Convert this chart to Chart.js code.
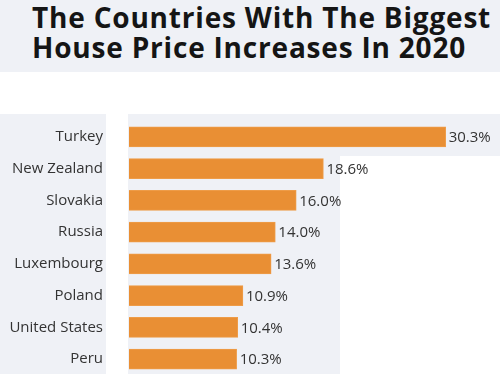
<!DOCTYPE html>
<html>
<head>
<meta charset="utf-8">
<script src="https://cdn.jsdelivr.net/npm/chart.js@4"></script>
<style>
  html, body { margin: 0; padding: 0; }
  body {
    width: 500px; height: 374px; overflow: hidden; position: relative;
    background: #eff1f6;
    font-family: "Open Sans", sans-serif;
  }
  .band { position: absolute; background: #fff; }
  h1 {
    position: absolute; left: 32px; top: 2px; margin: 0;
    font-size: 28px; line-height: 30px; font-weight: 700;
    color: #151515; letter-spacing: 0.8px;
    white-space: nowrap;
  }
  #chart { position: absolute; left: 0; top: 110px; }
</style>
</head>
<body>
<div class="band" style="left:0;top:72px;width:500px;height:42px"></div>
<div class="band" style="left:106px;top:114px;width:22px;height:260px"></div>
<div class="band" style="left:340px;top:156px;width:160px;height:218px"></div>
<h1>The Countries With The Biggest<br>House Price Increases In 2020</h1>
<canvas id="chart" width="500" height="270"></canvas>
<script>
const countries = ["Turkey", "New Zealand", "Slovakia", "Russia", "Luxembourg", "Poland", "United States", "Peru"];
const increases = [30.3, 18.6, 16.0, 14.0, 13.6, 10.9, 10.4, 10.3];

const valueLabels = {
  id: "valueLabels",
  afterDatasetsDraw(chart) {
    const ctx = chart.ctx;
    const meta = chart.getDatasetMeta(0);
    ctx.save();
    ctx.font = "15px 'Open Sans'";
    ctx.fillStyle = "#333";
    ctx.textAlign = "left";
    ctx.textBaseline = "middle";
    meta.data.forEach((bar, i) => {
      ctx.fillText(increases[i].toFixed(1) + "%", bar.x + 3, bar.y + 1);
    });
    ctx.restore();
  }
};

new Chart(document.getElementById("chart"), {
  type: "bar",
  data: {
    labels: countries,
    datasets: [{
      data: increases,
      backgroundColor: "#e98f34",
      borderColor: "#ee9c48",
      borderWidth: 1,
      barThickness: 20
    }]
  },
  options: {
    indexAxis: "y",
    responsive: false,
    animation: false,
    layout: { padding: { top: 11, bottom: 5, left: 0, right: 0 } },
    plugins: {
      legend: { display: false },
      tooltip: { enabled: false }
    },
    scales: {
      x: { display: false, min: 0, max: 35.5 },
      y: {
        grid: { display: false, drawTicks: false },
        border: { display: false },
        ticks: {
          padding: 26,
          color: "#333",
          font: { family: "Open Sans", size: 15 }
        },
        afterFit(axis) {
          axis.width = 129;
          axis.paddingTop = 0;
          axis.paddingBottom = 0;
        }
      }
    }
  },
  plugins: [valueLabels]
});
</script>
</body>
</html>
